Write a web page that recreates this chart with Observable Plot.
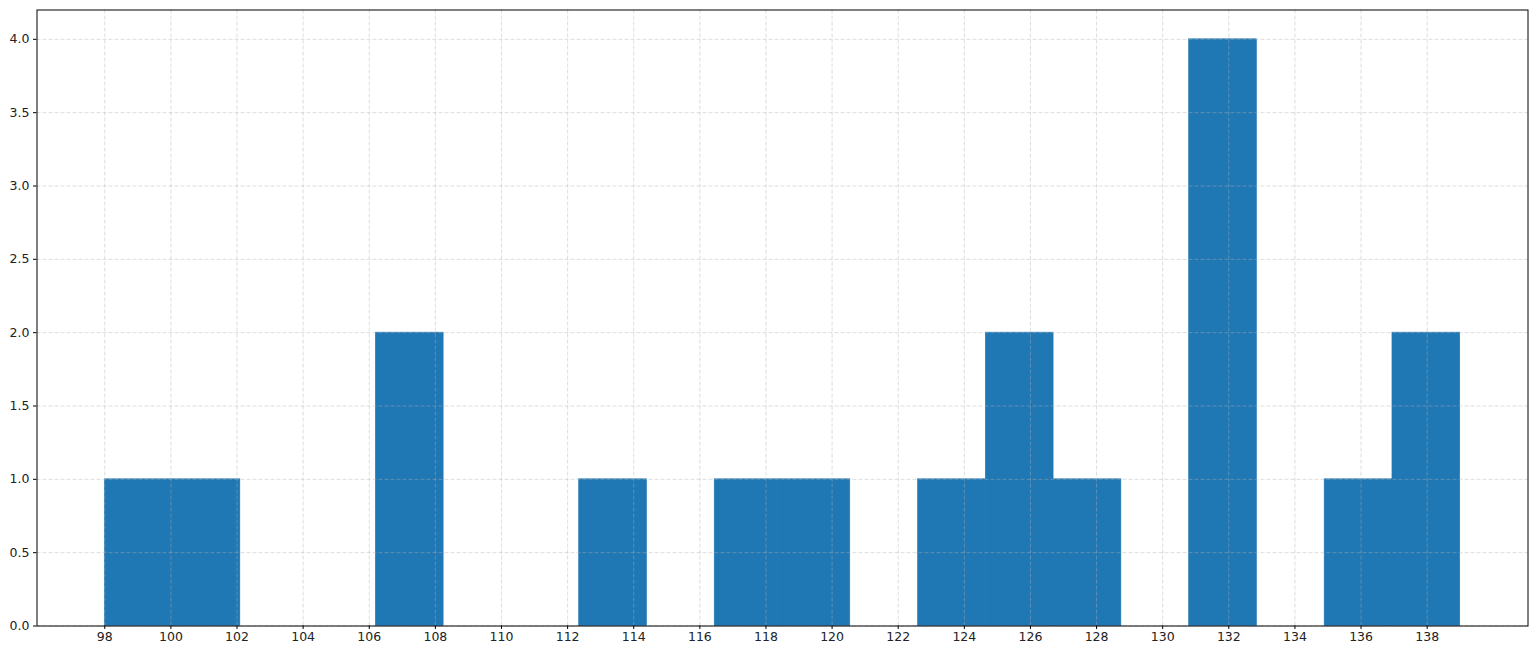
<!DOCTYPE html>
<html>
<head>
<meta charset="utf-8">
<script src="https://cdn.jsdelivr.net/npm/d3@7"></script>
<script src="https://cdn.jsdelivr.net/npm/@observablehq/plot@0.6"></script>
<style>
  html, body { margin: 0; padding: 0; background: #fff; }
  #chart { width: 1538px; height: 656px; }
</style>
</head>
<body>
<div id="chart"></div>
<script>
// Histogram bins: 20 equal bins between binMin and binMax
const binMin = 98;
const binMax = 139;
const binCounts = [1, 1, 0, 0, 2, 0, 0, 1, 0, 1, 1, 0, 1, 2, 1, 0, 4, 0, 1, 2];
const xTicks = d3.range(98, 139, 2);
const yTicks = [0, 0.5, 1, 1.5, 2, 2.5, 3, 3.5, 4];

const nBins = binCounts.length;
const binWidth = (binMax - binMin) / nBins;
const bins = binCounts.map((c, i) => ({
  x1: binMin + i * binWidth,
  x2: binMin + (i + 1) * binWidth,
  count: c
})).filter(d => d.count > 0);

const pad = (binMax - binMin) * 0.05;
const yMax = d3.max(binCounts) * 1.05;

const gridStyle = {stroke: "#b0b0b0", strokeOpacity: 0.55, strokeWidth: 0.8, strokeDasharray: "4,2"};

const chart = Plot.plot({
  width: 1538,
  height: 656,
  marginLeft: 36.5,
  marginRight: 10.5,
  marginTop: 9.5,
  marginBottom: 30.5,
  style: {fontFamily: "DejaVu Sans", fontSize: "12.5px", color: "#222", background: "#fff"},
  x: {domain: [binMin - pad, binMax + pad]},
  y: {domain: [0, yMax]},
  marks: [
    Plot.rectY(bins, {x1: "x1", x2: "x2", y: "count", fill: "#1f77b4", stroke: "#1f77b4", strokeWidth: 0.6, inset: 0}),
    Plot.ruleX(xTicks, gridStyle),
    Plot.ruleY(yTicks, gridStyle),
    Plot.axisX(xTicks, {tickSize: 3.5, tickPadding: 3, tickFormat: d => String(d), label: null, stroke: "#000", fill: "#222"}),
    Plot.axisY(yTicks, {tickSize: 3.5, tickPadding: 4, tickFormat: d => d.toFixed(1), label: null, stroke: "#000", fill: "#222"}),
    Plot.frame({stroke: "#000", strokeWidth: 1})
  ]
});
document.getElementById("chart").appendChild(chart);
</script>
</body>
</html>
